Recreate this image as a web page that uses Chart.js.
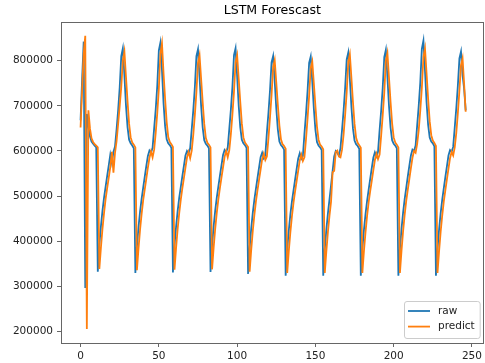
<!DOCTYPE html>
<html>
<head>
<meta charset="utf-8">
<script src="https://cdn.jsdelivr.net/npm/chart.js@4.4.1/dist/chart.umd.min.js"></script>
<style>
  html, body { margin: 0; padding: 0; background: #fff; }
  #wrap { width: 485px; height: 363px; }
</style>
</head>
<body>
<div id="wrap"><canvas id="chart"></canvas></div>
<script>
// series
const raw = [
  668000, 760000, 842000, 297000, 682000, 655000, 632000, 621000, 616000, 612000, 608000,
  333000, 392000, 433000, 468000, 497000, 521000, 545000, 568000, 592000, 574000, 598000, 610000, 648000, 690000, 741000, 810000, 827000, 767000, 701000, 653000, 625000, 617000, 612000, 606000,
  330000, 389000, 431000, 466000, 494000, 519000, 543000, 567000, 589000, 601000, 596000, 607000, 650000, 692000, 745000, 823000, 840000, 779000, 706000, 655000, 626000, 617000, 613000, 607000,
  331000, 390000, 432000, 467000, 496000, 520000, 544000, 567000, 590000, 600000, 595000, 606000, 648000, 690000, 741000, 810000, 825000, 764000, 700000, 652000, 624000, 616000, 612000, 606000,
  332000, 391000, 433000, 468000, 497000, 521000, 545000, 568000, 591000, 602000, 597000, 607000, 649000, 691000, 742000, 812000, 827000, 766000, 701000, 653000, 625000, 617000, 613000, 607000,
  328000, 386000, 428000, 463000, 492000, 516000, 540000, 563000, 586000, 596000, 584000, 590000, 640000, 684000, 734000, 796000, 810000, 755000, 695000, 648000, 621000, 613000, 609000, 603000,
  324000, 382000, 424000, 459000, 488000, 512000, 536000, 560000, 583000, 595000, 583000, 589000, 638000, 682000, 733000, 795000, 809000, 754000, 694000, 647000, 620000, 612000, 608000, 602000,
  324000, 383000, 426000, 462000, 493000, 524000, 556000, 588000, 600000, 596000, 590000, 606000, 646000, 689000, 740000, 803000, 818000, 760000, 698000, 650000, 623000, 615000, 611000, 605000,
  324000, 383000, 425000, 460000, 489000, 514000, 538000, 562000, 585000, 597000, 588000, 598000, 646000, 689000, 740000, 808000, 824000, 764000, 700000, 652000, 624000, 616000, 612000, 606000,
  324000, 384000, 427000, 463000, 493000, 518000, 543000, 567000, 590000, 603000, 600000, 612000, 656000, 700000, 752000, 826000, 844000, 778000, 708000, 658000, 630000, 621000, 617000, 610000,
  324000, 383000, 426000, 462000, 492000, 517000, 542000, 566000, 590000, 602000, 598000, 609000, 652000, 695000, 745000, 805000, 820000, 768000, 738000, 690000
];
const predict = [
  652000, 735000, 815000, 855000, 206000, 690000, 650000, 628000, 620000, 615000, 612000, 608000,
  339000, 386000, 428000, 463000, 494000, 518000, 541000, 565000, 598000, 552000, 596000, 622000, 660000, 700000, 742000, 800000, 820000, 764000, 710000, 660000, 630000, 619000, 614000, 608000,
  336000, 384000, 426000, 461000, 491000, 515000, 539000, 563000, 585000, 599000, 586000, 603000, 640000, 684000, 738000, 815000, 838000, 772000, 715000, 664000, 631000, 620000, 615000, 609000,
  337000, 385000, 427000, 462000, 492000, 517000, 540000, 563000, 586000, 598000, 584000, 601000, 636000, 680000, 730000, 795000, 812000, 760000, 708000, 660000, 629000, 618000, 614000, 608000,
  338000, 386000, 428000, 463000, 493000, 518000, 541000, 564000, 587000, 600000, 586000, 602000, 637000, 681000, 731000, 796000, 812000, 761000, 709000, 661000, 630000, 619000, 614000, 609000,
  333000, 381000, 423000, 458000, 488000, 513000, 536000, 559000, 582000, 594000, 580000, 588000, 628000, 674000, 724000, 786000, 801000, 752000, 702000, 656000, 626000, 615000, 611000, 605000,
  330000, 378000, 420000, 455000, 485000, 510000, 533000, 556000, 579000, 592000, 578000, 586000, 626000, 672000, 722000, 783000, 798000, 750000, 700000, 654000, 625000, 614000, 610000, 604000,
  330000, 378000, 421000, 457000, 488000, 553000, 556000, 598000, 601000, 588000, 586000, 603000, 636000, 680000, 730000, 798000, 814000, 762000, 708000, 660000, 629000, 618000, 613000, 607000,
  330000, 378000, 420000, 456000, 486000, 511000, 534000, 557000, 580000, 594000, 582000, 592000, 634000, 679000, 729000, 800000, 817000, 763000, 709000, 661000, 630000, 619000, 614000, 608000,
  330000, 379000, 422000, 458000, 489000, 514000, 538000, 562000, 585000, 600000, 596000, 616000, 646000, 690000, 740000, 808000, 827000, 772000, 716000, 666000, 635000, 623000, 618000, 611000,
  330000, 378000, 421000, 457000, 488000, 513000, 537000, 561000, 584000, 598000, 590000, 608000, 640000, 684000, 734000, 790000, 805000, 748000, 687000
];
const seriesNames = ['raw', 'predict'];
const seriesColors = ['#1f77b4', '#ff7f0e'];
const xTicks = [0, 50, 100, 150, 200, 250];
const yTicks = [200000, 300000, 400000, 500000, 600000, 700000, 800000];
const chartTitle = 'LSTM Forescast';

// x positions are just the sample index
const steps = raw.map((_, i) => i);

const FONT = 'DejaVu Sans';
const axisColor = '#666';

// matplotlib-like frame, title and lower-right legend
const decorations = {
  id: 'decorations',
  afterDraw(chart) {
    const { ctx, chartArea: a } = chart;
    ctx.save();
    ctx.strokeStyle = axisColor;
    ctx.lineWidth = 1;
    ctx.strokeRect(Math.round(a.left) + 0.5, Math.round(a.top) + 0.5,
      Math.round(a.right - a.left) - 1, Math.round(a.bottom - a.top));

    ctx.fillStyle = '#000';
    ctx.font = '12.6px "' + FONT + '"';
    ctx.textAlign = 'center';
    ctx.textBaseline = 'middle';
    ctx.fillText(chartTitle, (a.left + a.right) / 2, 11);

    // legend
    ctx.font = '10.5px "' + FONT + '"';
    const sets = chart.data.datasets;
    let tw = 0;
    sets.forEach(d => { tw = Math.max(tw, ctx.measureText(d.label).width); });
    const w = 4 + 22 + 8 + tw + 5;
    const h = 37;
    const x0 = a.right - 4 - w;
    const y0 = a.bottom - 5 - h;
    ctx.beginPath();
    ctx.roundRect(x0 + 0.5, y0 + 0.5, w, h, 2.5);
    ctx.fillStyle = 'rgba(255,255,255,0.8)';
    ctx.fill();
    ctx.strokeStyle = '#cccccc';
    ctx.stroke();
    sets.forEach((d, i) => {
      const cy = y0 + 10 + i * 15.6;
      ctx.strokeStyle = d.borderColor;
      ctx.lineWidth = 1.8;
      ctx.beginPath();
      ctx.moveTo(x0 + 4, cy);
      ctx.lineTo(x0 + 26, cy);
      ctx.stroke();
      ctx.fillStyle = '#222';
      ctx.textAlign = 'left';
      ctx.fillText(d.label, x0 + 34, cy);
    });
    ctx.restore();
  }
};

new Chart(document.getElementById('chart'), {
  type: 'line',
  data: {
    labels: steps,
    datasets: [
      { label: seriesNames[0], data: raw, borderColor: seriesColors[0], order: 1 },
      { label: seriesNames[1], data: predict, borderColor: seriesColors[1], order: 0 }
    ]
  },
  options: {
    responsive: true,
    maintainAspectRatio: false,
    animation: false,
    events: [],
    elements: {
      point: { radius: 0 },
      line: { borderWidth: 1.8, tension: 0, fill: false }
    },
    layout: { padding: { top: 22, right: 1, left: 0, bottom: 0 } },
    plugins: {
      legend: { display: false },
      tooltip: { enabled: false },
      title: { display: false }
    },
    scales: {
      x: {
        type: 'linear',
        min: -12.5,
        max: 257.5,
        afterBuildTicks: s => { s.ticks = xTicks.map(v => ({ value: v })); },
        afterFit: s => { s.height = 20; },
        grid: { drawOnChartArea: false, drawTicks: true, tickLength: 4, tickColor: axisColor },
        border: { display: false },
        ticks: {
          padding: 3,
          color: '#222',
          font: { family: FONT, size: 10.5 },
          callback: v => String(v),
          maxRotation: 0
        }
      },
      y: {
        min: 175000,
        max: 885500,
        afterBuildTicks: s => { s.ticks = yTicks.map(v => ({ value: v })); },
        afterFit: s => { s.width = 61; },
        grid: { drawOnChartArea: false, drawTicks: true, tickLength: 4, tickColor: axisColor },
        border: { display: false },
        ticks: {
          padding: 4,
          color: '#222',
          font: { family: FONT, size: 10.5 },
          callback: v => String(v)
        }
      }
    }
  },
  plugins: [decorations]
});
</script>
</body>
</html>
